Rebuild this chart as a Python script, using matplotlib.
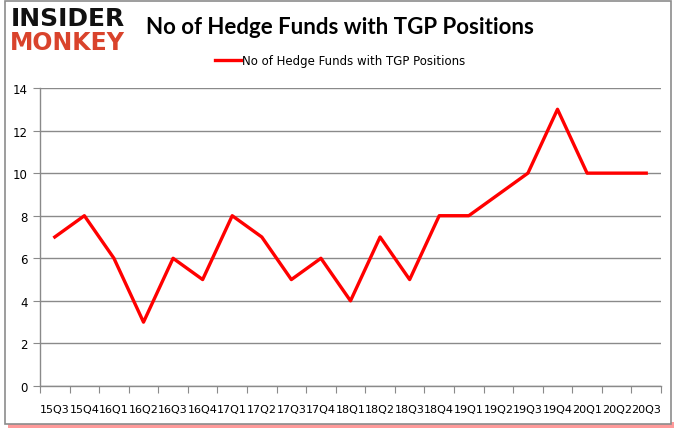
import matplotlib
matplotlib.use('Agg')
import matplotlib.pyplot as plt
from matplotlib.patches import Rectangle
from matplotlib.ticker import FixedLocator, NullFormatter

# Data
quarters = ['15Q3', '15Q4', '16Q1', '16Q2', '16Q3', '16Q4', '17Q1', '17Q2', '17Q3', '17Q4',
            '18Q1', '18Q2', '18Q3', '18Q4', '19Q1', '19Q2', '19Q3', '19Q4', '20Q1', '20Q2', '20Q3']
hedge_funds = [7, 8, 6, 3, 6, 5, 8, 7, 5, 6, 4, 7, 5, 8, 8, 9, 10, 13, 10, 10, 10]
series_name = 'No of Hedge Funds with TGP Positions'
title = 'No of Hedge Funds with TGP Positions'

fig = plt.figure(figsize=(6.78, 4.31), dpi=100)

# frame with red shadow
W, H = 678, 431
fig.patches.append(Rectangle((8 / W, 2 / H), 666 / W, 6 / H, transform=fig.transFigure,
                             facecolor='#ff2020', edgecolor='none', alpha=0.45, zorder=0))
fig.patches.append(Rectangle((5 / W, 6 / H), 666 / W, 423 / H, transform=fig.transFigure,
                             facecolor='white', edgecolor='#8c8c8c', linewidth=1.2, zorder=1))

ax = fig.add_axes([40 / W, 1 - 387 / H, 621 / W, 298 / H])
ax.set_zorder(2)
x = list(range(len(quarters)))
ax.plot(x, hedge_funds, color='#ff0000', linewidth=2.4, label=series_name)

ax.set_xlim(-0.5, len(quarters) - 0.5)
ax.set_ylim(0, 14)
ax.set_yticks(range(0, 15, 2))
ax.yaxis.grid(True, color='#8a8a8a', linewidth=1)
ax.set_axisbelow(True)

ax.xaxis.set_major_locator(FixedLocator([i - 0.5 for i in range(len(quarters) + 1)]))
ax.xaxis.set_major_formatter(NullFormatter())
ax.xaxis.set_minor_locator(FixedLocator(x))
ax.set_xticklabels(quarters, minor=True)
ax.tick_params(axis='x', which='minor', length=0, pad=13, labelsize=8)
ax.tick_params(axis='x', which='major', length=5, color='#8a8a8a')
ax.tick_params(axis='y', length=5, color='#8a8a8a', labelsize=8.5, pad=4)

for s in ['top', 'right']:
    ax.spines[s].set_visible(False)
for s in ['left', 'bottom']:
    ax.spines[s].set_color('#8a8a8a')
    ax.spines[s].set_linewidth(1)

# title and legend
fig.text(340 / W, 1 - 27 / H, title, ha='center', va='center', fontsize=16,
         fontweight='bold', family='Lato')
ax.legend(loc='center', bbox_to_anchor=(340 / W, 1 - 62 / H), bbox_transform=fig.transFigure,
          frameon=False, fontsize=8.5, handlelength=2.2, handletextpad=0.1)

# logo
fig.text(11 / W, 1 - 19 / H, 'INSIDER', ha='left', va='center', fontsize=18,
         fontweight='heavy', color='#111111', family='DejaVu Sans')
fig.text(10 / W, 1 - 43 / H, 'MONKEY', ha='left', va='center', fontsize=17,
         fontweight='heavy', color='#d9432c', family='DejaVu Sans')

fig.savefig('out.png', dpi=100)
